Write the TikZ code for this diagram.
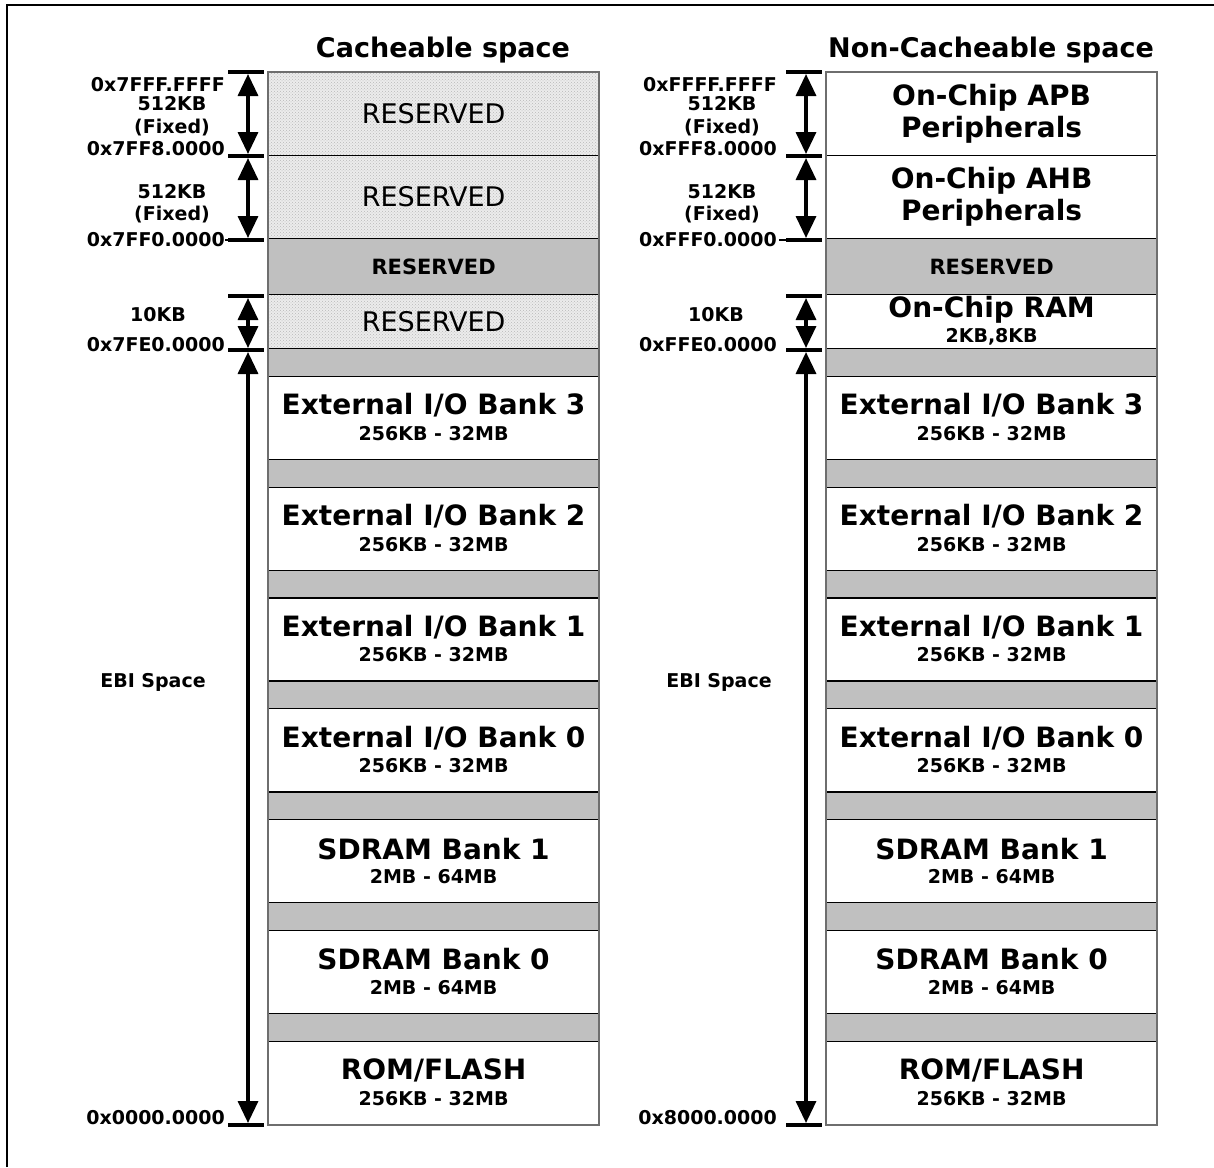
\documentclass[tikz,border=0pt]{standalone}
\usepackage{fontspec}
\setmainfont{DejaVu Sans}
\usetikzlibrary{arrows.meta,calc,patterns}
\definecolor{cellgray}{RGB}{192,192,192}
\definecolor{hatchgray}{RGB}{236,236,236}
\definecolor{bordergray}{RGB}{110,110,110}
\begin{document}
\begin{tikzpicture}[x=1pt,y=-1pt,
  cell/.style={draw=black,line width=1.2pt,minimum width=330pt,inner sep=0pt,anchor=north west},
  whitecell/.style={cell,fill=white},
  graycell/.style={cell,fill=cellgray},
  hatchcell/.style={cell,preaction={fill=hatchgray},pattern=crosshatch dots,pattern color=black!28},
  bigtxt/.style={font=\bfseries\fontsize{28}{32}\selectfont,inner sep=0pt,align=center},
  regtxt/.style={font=\fontsize{27}{32}\selectfont,inner sep=0pt},
  midtxt/.style={font=\bfseries\fontsize{21}{24}\selectfont,inner sep=0pt},
  smalltxt/.style={font=\bfseries\fontsize{19}{22}\selectfont,inner sep=0pt},
  lbl/.style={font=\bfseries\fontsize{19}{22}\selectfont,inner sep=0pt},
  titletxt/.style={font=\bfseries\fontsize{27}{30}\selectfont,inner sep=0pt},
  tickline/.style={line width=4pt},
  dimline/.style={line width=3.4pt,{Triangle[width=20pt,length=22pt]}-{Triangle[width=20pt,length=22pt]}},
  colframe/.style={draw=bordergray,line width=2pt},
]
\useasboundingbox (0,0) rectangle (1214,1167);
\draw[line width=2pt] (7,1167) -- (7,5) -- (1214,5);

% titles
\node[titletxt] (tL) at (443,50) {Cacheable space};
\node[titletxt] (tR) at (991,50) {Non-Cacheable space};

% ---------- left column top cells
\node[hatchcell,minimum height=83pt] (LA) at (268,72) {};
\node[regtxt] (LAt) at (LA.center) {RESERVED};
\node[hatchcell,minimum height=83pt] (LB) at (268,155) {};
\node[regtxt] (LBt) at (LB.center) {RESERVED};
\node[graycell,minimum height=56pt] (LC) at (268,238) {};
\node[midtxt] (LCt) at (LC.center) {RESERVED};
\node[hatchcell,minimum height=54pt] (LD) at (268,294) {};
\node[regtxt] (LDt) at (LD.center) {RESERVED};

% ---------- right column top cells
\node[whitecell,minimum height=83pt] (RA) at (826,72) {};
\node[bigtxt] (RAt) at (RA.center) {On-Chip APB\\Peripherals};
\node[whitecell,minimum height=83pt] (RB) at (826,155) {};
\node[bigtxt] (RBt) at (RB.center) {On-Chip AHB\\Peripherals};
\node[graycell,minimum height=56pt] (RC) at (826,238) {};
\node[midtxt] (RCt) at (RC.center) {RESERVED};
\node[whitecell,minimum height=54pt] (RD) at (826,294) {};
\node[bigtxt] (RDt) at ([yshift=12pt]RD.center) {On-Chip RAM};
\node[smalltxt] (RDs) at ([yshift=-15pt]RD.center) {2KB,8KB};

% ---------- banks
\foreach \cx/\p in {268/L,826/R}{
  \foreach \nm/\sb [count=\i from 0] in {{External I/O Bank 3}/{256KB - 32MB},
      {External I/O Bank 2}/{256KB - 32MB},
      {External I/O Bank 1}/{256KB - 32MB},
      {External I/O Bank 0}/{256KB - 32MB},
      {SDRAM Bank 1}/{2MB - 64MB},
      {SDRAM Bank 0}/{2MB - 64MB},
      {ROM/FLASH}/{256KB - 32MB}}{
    \pgfmathsetmacro\yg{348+110.83*\i}
    \pgfmathsetmacro\yw{\yg+27.7}
    \node[graycell,minimum height=27.7pt] (\p g\i) at (\cx,\yg) {};
    \node[whitecell,minimum height=83.1pt] (\p w\i) at (\cx,\yw) {};
    \node[bigtxt] (\p m\i) at ([yshift=12.5pt]\p w\i.center) {\nm};
    \node[smalltxt] (\p s\i) at ([yshift=-15.5pt]\p w\i.center) {\sb};
  }
}

% column frames
\draw[colframe] (LA.north west) rectangle (Lw6.south east);
\draw[colframe] (RA.north west) rectangle (Rw6.south east);

% ---------- dimension lines
\foreach \ax/\p in {248/L,806/R}{
  \coordinate (\p k0) at (\ax,72);
  \coordinate (\p k1) at (\ax,156);
  \coordinate (\p k2) at (\ax,240);
  \coordinate (\p k3) at (\ax,296);
  \coordinate (\p k4) at (\ax,350);
  \coordinate (\p k5) at (\ax,1125);
  \foreach \k in {0,...,5}{
    \draw[tickline] ([xshift=-20pt]\p k\k) -- ([xshift=16pt]\p k\k);
  }
  \draw[dimline,shorten <=2pt,shorten >=2pt] (\p k0) -- (\p k1);
  \draw[dimline,shorten <=2pt,shorten >=2pt] (\p k1) -- (\p k2);
  \draw[dimline,shorten <=2pt,shorten >=2pt] (\p k3) -- (\p k4);
  \draw[dimline,shorten <=2pt,shorten >=2pt] (\p k4) -- (\p k5);
}
\draw[line width=2pt] (225,240) -- (Lk2);
\draw[line width=2pt] (779,240) -- (Rk2);

% ---------- left labels
\node[lbl,anchor=east] (La0) at (225,85) {0x7FFF.FFFF};
\node[lbl] (La1) at (172,104) {512KB};
\node[lbl] (La2) at (172,128) {(Fixed)};
\node[lbl,anchor=east] (La3) at (225,149) {0x7FF8.0000};
\node[lbl] (La4) at (172,192) {512KB};
\node[lbl] (La5) at (172,215) {(Fixed)};
\node[lbl,anchor=east] (La6) at (225,240) {0x7FF0.0000};
\node[lbl] (La7) at (158,315) {10KB};
\node[lbl,anchor=east] (La8) at (225,345) {0x7FE0.0000};
\node[lbl] (La9) at (153,682) {EBI Space};
\node[lbl,anchor=east] (La10) at (225,1118) {0x0000.0000};

% ---------- right labels
\node[lbl,anchor=east] (Ra0) at (777,85) {0xFFFF.FFFF};
\node[lbl] (Ra1) at (722,104) {512KB};
\node[lbl] (Ra2) at (722,128) {(Fixed)};
\node[lbl,anchor=east] (Ra3) at (777,149) {0xFFF8.0000};
\node[lbl] (Ra4) at (722,192) {512KB};
\node[lbl] (Ra5) at (722,215) {(Fixed)};
\node[lbl,anchor=east] (Ra6) at (777,240) {0xFFF0.0000};
\node[lbl] (Ra7) at (716,315) {10KB};
\node[lbl,anchor=east] (Ra8) at (777,345) {0xFFE0.0000};
\node[lbl] (Ra9) at (719,682) {EBI Space};
\node[lbl,anchor=east] (Ra10) at (777,1118) {0x8000.0000};
\end{tikzpicture}
\end{document}
